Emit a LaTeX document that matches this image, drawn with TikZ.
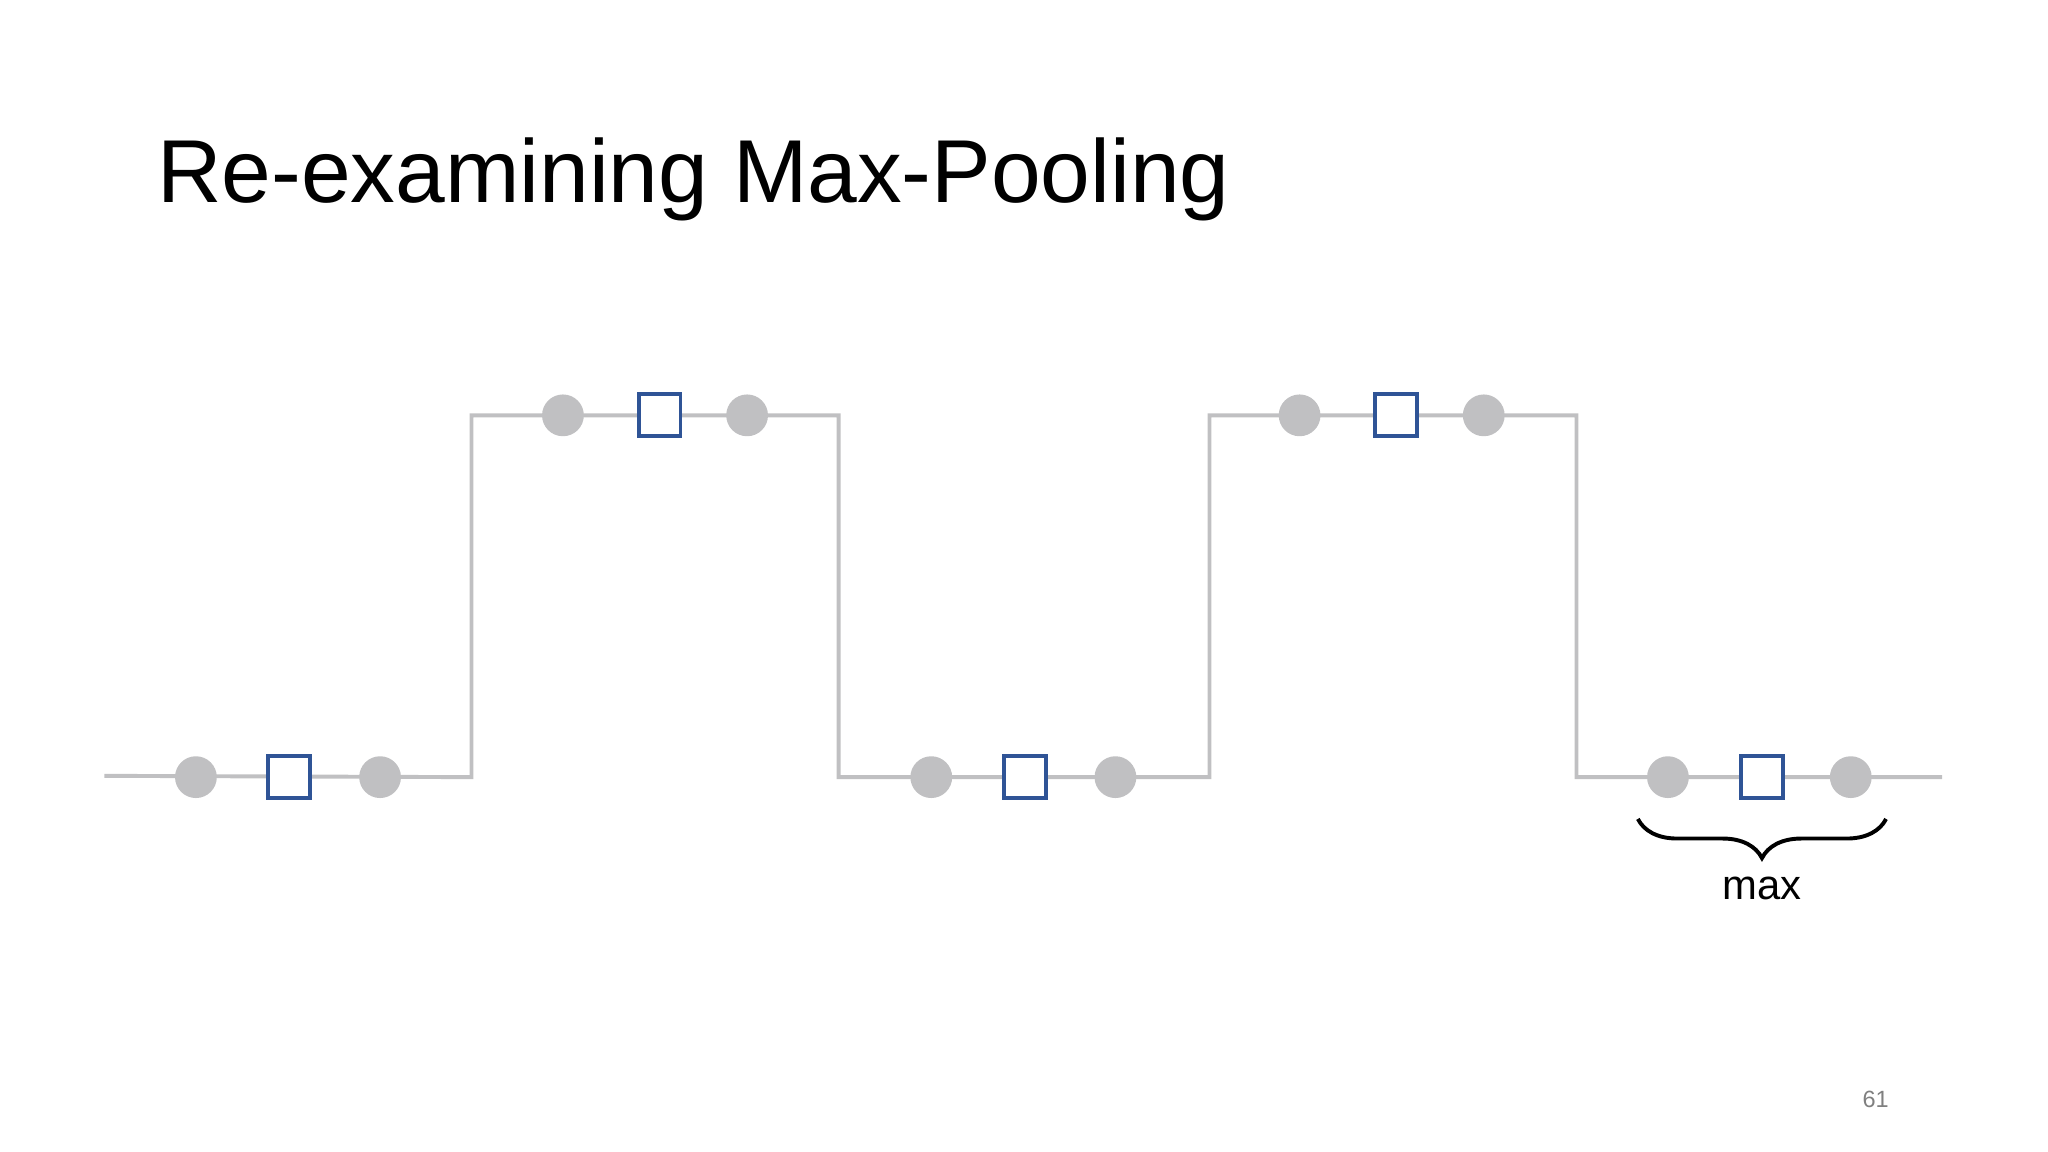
\documentclass[tikz,border=0pt]{standalone}
\usepackage{fontspec}
\setmainfont{Liberation Sans}
\usetikzlibrary{decorations.pathreplacing}
\definecolor{lg}{RGB}{192,192,194}
\definecolor{bl}{RGB}{47,84,150}
\begin{document}
\begin{tikzpicture}[x=0.5pt,y=-0.5pt,
  dot/.style={circle,fill=lg,inner sep=0pt,minimum size=16pt},
  sq/.style={rectangle,draw=bl,fill=white,line width=1.5pt,inner sep=0pt,minimum size=16pt},
  wire/.style={draw=lg,line width=1.5pt}]
\useasboundingbox (0,0) rectangle (1568,882);
\node[anchor=base west,inner sep=0pt,font=\fontsize{34.2}{40}\selectfont] (title) at (120,155) {Re-examining Max-Pooling};
\coordinate (s) at (80,594);
\coordinate (a1) at (361,595); \coordinate (a2) at (361,318);
\coordinate (b1) at (642,318); \coordinate (b2) at (642,595);
\coordinate (c1) at (926,595); \coordinate (c2) at (926,318);
\coordinate (d1) at (1207,318); \coordinate (d2) at (1207,595);
\coordinate (e) at (1487,595);
\draw[wire] (s) -- (a1) -- (a2) -- (b1) -- (b2) -- (c1) -- (c2) -- (d1) -- (d2) -- (e);
\foreach \n/\x/\y in {1/150/595,2/431/318,3/713/595,4/995/318,5/1277/595}{
  \node[dot] (l\n) at (\x,\y) {};}
\foreach \n/\x/\y in {1/291/595,2/572/318,3/854/595,4/1136/318,5/1417/595}{
  \node[dot] (r\n) at (\x,\y) {};}
\foreach \n/\x/\y in {1/221/595,2/505/318,3/785/595,4/1069/318,5/1349/595}{
  \node[sq] (q\n) at (\x,\y) {};}
\coordinate (bl) at (1254,627); \coordinate (br) at (1444,627);
\draw[line width=1.5pt,decorate,decoration={brace,mirror,amplitude=15}] (bl) -- (br);
\node[font=\fontsize{16}{18}\selectfont] (mx) at (1349,680) {max};
\node[font=\fontsize{9}{11}\selectfont,text=gray] (pg) at (1436,842) {61};
\end{tikzpicture}
\end{document}
